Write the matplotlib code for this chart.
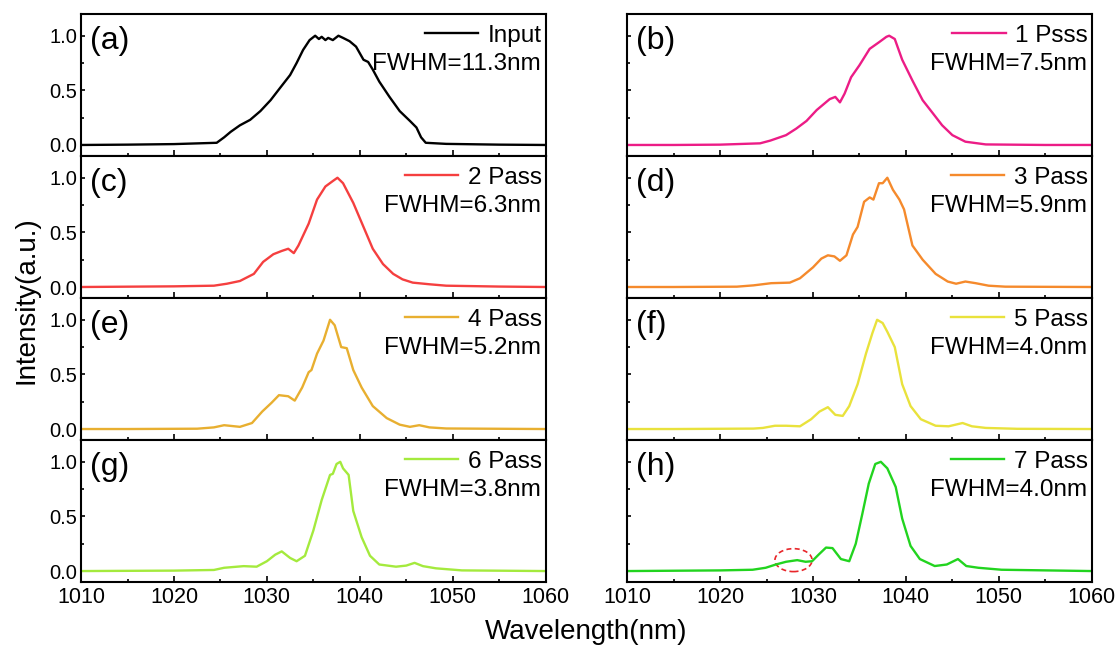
# ///---- espectros_pasadas.py ----///
# Espectros normalizados para cada pasada (a)-(h)

# ///---- Imports ----///
import numpy as np
import matplotlib
matplotlib.use('Agg')
import matplotlib.pyplot as plt
from matplotlib.patches import Ellipse
from matplotlib.ticker import MultipleLocator

plt.rcParams['font.family'] = ['Liberation Sans', 'DejaVu Sans']

# ///---- Datos ----///
wl_a = [1010, 1015, 1020, 1024.6, 1025.4, 1026.1, 1027.1, 1028.2, 1029.3, 1030.4, 1031.4,
        1032.5, 1033.2, 1033.9, 1034.6, 1035.2, 1035.6, 1035.9, 1036.3, 1036.6, 1037.1,
        1037.7, 1038.2, 1038.9, 1039.6, 1040.4, 1040.9, 1041.4, 1042.1, 1043.2, 1044.3,
        1045.4, 1046.1, 1046.6, 1047.1, 1049.3, 1055, 1060]
int_a = [0.0, 0.003, 0.008, 0.02, 0.07, 0.12, 0.18, 0.23, 0.31, 0.41, 0.52,
         0.64, 0.75, 0.87, 0.96, 1.0, 0.97, 0.99, 0.96, 0.98, 0.96,
         1.0, 0.98, 0.95, 0.90, 0.78, 0.76, 0.69, 0.58, 0.44, 0.31,
         0.22, 0.16, 0.07, 0.02, 0.01, 0.003, 0.0]

wl_b = [1010, 1015, 1020, 1024.3, 1025.4, 1027.1, 1028.2, 1029.3, 1030.4, 1031.1, 1031.8,
        1032.4, 1032.9, 1033.4, 1034.1, 1035.0, 1036.1, 1037.1, 1037.9, 1038.2, 1038.8,
        1039.6, 1040.7, 1041.8, 1042.9, 1043.9, 1045.0, 1046.4, 1048.6, 1055, 1060]
int_b = [0.0, 0.0, 0.003, 0.015, 0.04, 0.09, 0.15, 0.22, 0.32, 0.37, 0.42,
         0.44, 0.39, 0.47, 0.62, 0.73, 0.88, 0.94, 0.99, 1.0, 0.97,
         0.78, 0.59, 0.41, 0.29, 0.18, 0.09, 0.03, 0.005, 0.0, 0.0]

wl_c = [1010, 1015, 1020, 1024.3, 1025.7, 1027.1, 1028.6, 1029.6, 1030.7, 1031.6, 1032.3,
        1032.9, 1033.4, 1034.5, 1035.4, 1036.3, 1037.1, 1037.6, 1038.2, 1039.3, 1040.4,
        1041.4, 1042.5, 1043.6, 1044.6, 1045.7, 1047.5, 1049.3, 1055, 1060]
int_c = [0.0, 0.003, 0.006, 0.012, 0.03, 0.055, 0.12, 0.23, 0.30, 0.33, 0.35,
         0.31, 0.38, 0.58, 0.80, 0.92, 0.97, 1.0, 0.95, 0.77, 0.55,
         0.35, 0.21, 0.12, 0.07, 0.04, 0.025, 0.012, 0.004, 0.0]

wl_d = [1010, 1015, 1021.8, 1023.6, 1025.5, 1027.5, 1028.6, 1030.0, 1030.9, 1031.6, 1032.3,
        1032.9, 1033.6, 1034.3, 1034.8, 1035.5, 1036.1, 1036.5, 1037.1, 1037.5, 1038.0,
        1038.6, 1039.3, 1039.8, 1040.7, 1041.8, 1043.2, 1044.5, 1045.4, 1046.4, 1047.5,
        1048.9, 1050.7, 1060]
int_d = [0.0, 0.0, 0.003, 0.015, 0.035, 0.04, 0.08, 0.18, 0.26, 0.29, 0.28,
         0.24, 0.29, 0.48, 0.55, 0.78, 0.82, 0.80, 0.95, 0.95, 1.0,
         0.89, 0.80, 0.71, 0.38, 0.25, 0.12, 0.05, 0.03, 0.05, 0.035,
         0.012, 0.003, 0.0]

wl_e = [1010, 1015, 1022.5, 1024.3, 1025.4, 1027.1, 1028.4, 1029.5, 1030.5, 1031.3, 1032.3,
        1033.0, 1033.8, 1034.5, 1034.8, 1035.4, 1036.1, 1036.8, 1037.3, 1038.0, 1038.6,
        1039.3, 1040.2, 1041.4, 1042.9, 1044.3, 1045.4, 1046.4, 1047.5, 1049.3, 1060]
int_e = [0.0, 0.0, 0.003, 0.015, 0.035, 0.02, 0.055, 0.16, 0.24, 0.31, 0.30,
         0.26, 0.38, 0.52, 0.54, 0.69, 0.81, 1.0, 0.95, 0.75, 0.74,
         0.54, 0.38, 0.21, 0.10, 0.04, 0.02, 0.035, 0.015, 0.005, 0.0]

wl_f = [1010, 1015, 1023.6, 1024.6, 1025.9, 1027.1, 1028.6, 1029.8, 1030.7, 1031.6, 1032.4,
        1033.2, 1033.9, 1034.8, 1035.7, 1036.4, 1036.9, 1037.5, 1038.0, 1038.8, 1039.6,
        1040.5, 1041.6, 1043.2, 1044.6, 1046.1, 1047.1, 1048.6, 1052, 1060]
int_f = [0.0, 0.0, 0.004, 0.01, 0.03, 0.03, 0.025, 0.09, 0.16, 0.20, 0.13,
         0.12, 0.21, 0.41, 0.69, 0.88, 1.0, 0.97, 0.89, 0.75, 0.41,
         0.21, 0.09, 0.03, 0.025, 0.055, 0.025, 0.01, 0.002, 0.0]

wl_g = [1010, 1015, 1020, 1024.3, 1025.4, 1027.5, 1028.9, 1030.0, 1030.9, 1031.6, 1032.5,
        1033.2, 1034.1, 1035.0, 1035.9, 1036.8, 1037.1, 1037.5, 1037.9, 1038.2, 1038.8,
        1039.3, 1040.2, 1041.1, 1042.1, 1043.9, 1045.0, 1045.9, 1046.8, 1048.2, 1051, 1060]
int_g = [0.0, 0.002, 0.004, 0.01, 0.03, 0.045, 0.04, 0.09, 0.15, 0.18, 0.12,
         0.09, 0.14, 0.37, 0.65, 0.88, 0.89, 0.98, 1.0, 0.94, 0.88,
         0.55, 0.31, 0.14, 0.06, 0.04, 0.05, 0.075, 0.045, 0.025, 0.006, 0.0]

wl_h = [1010, 1015, 1020, 1023.5, 1024.9, 1026.0, 1027.1, 1028.3, 1029.2, 1029.9, 1030.6,
        1031.4, 1032.1, 1033.0, 1033.9, 1034.6, 1035.3, 1036.0, 1036.7, 1037.3, 1038.0,
        1038.9, 1039.6, 1040.5, 1041.5, 1043.1, 1044.4, 1045.6, 1046.5, 1047.8, 1050.3, 1060]
int_h = [0.0, 0.003, 0.006, 0.012, 0.03, 0.06, 0.085, 0.10, 0.085, 0.09, 0.15,
         0.215, 0.21, 0.11, 0.09, 0.25, 0.52, 0.80, 0.98, 1.0, 0.94,
         0.77, 0.48, 0.23, 0.11, 0.046, 0.06, 0.11, 0.046, 0.03, 0.012, 0.0]

longitudes = [wl_a, wl_b, wl_c, wl_d, wl_e, wl_f, wl_g, wl_h]
intensidades = [int_a, int_b, int_c, int_d, int_e, int_f, int_g, int_h]
etiquetas = ['(a)', '(b)', '(c)', '(d)', '(e)', '(f)', '(g)', '(h)']
leyendas = ['Input', '1 Psss', '2 Pass', '3 Pass', '4 Pass', '5 Pass', '6 Pass', '7 Pass']
fwhm = ['FWHM=11.3nm', 'FWHM=7.5nm', 'FWHM=6.3nm', 'FWHM=5.9nm',
        'FWHM=5.2nm', 'FWHM=4.0nm', 'FWHM=3.8nm', 'FWHM=4.0nm']
colores = ['#000000', '#EC1C86', '#F53F3F', '#F58A2C',
           '#E8AF30', '#E9E23C', '#A4EA3D', '#22D41F']
xticks = [1010, 1020, 1030, 1040, 1050, 1060]
yticks = [0.0, 0.5, 1.0]

# circulo rojo marcado en (h): centro, ancho, alto
elipse_h = (1027.9, 0.10, 4.0, 0.21)


# ///---- panel ----///
def panel(ax, i, abajo, izquierda):
    '''Dibuja un espectro con su leyenda y FWHM'''
    ax.plot(longitudes[i], intensidades[i], color=colores[i], lw=1.7, label=leyendas[i])
    ax.set_xlim(1010, 1060)
    ax.set_ylim(-0.1, 1.2)
    ax.set_xticks(xticks)
    ax.set_yticks(yticks)
    ax.xaxis.set_minor_locator(MultipleLocator(5))
    ax.yaxis.set_minor_locator(MultipleLocator(0.25))
    ax.tick_params(axis='x', which='both', direction='in', labelsize=15.5, width=1.2)
    ax.tick_params(axis='x', which='major', length=4)
    ax.tick_params(axis='x', which='minor', length=2.5)
    ax.tick_params(axis='y', which='both', direction='in', labelsize=14.5, width=1.2, pad=3)
    ax.tick_params(axis='y', which='major', length=3)
    ax.tick_params(axis='y', which='minor', length=2)
    ax.set_yticklabels(['0.0', '0.5', '1.0'])
    if not abajo:
        ax.tick_params(axis='x', labelbottom=False)
    if not izquierda:
        ax.tick_params(axis='y', labelleft=False)
    for s in ax.spines.values():
        s.set_linewidth(1.5)

    ax.legend(loc='upper right', bbox_to_anchor=(1.0, 0.95), frameon=False,
              fontsize=17.5, handlelength=2.2, handletextpad=0.4,
              borderaxespad=0.0, borderpad=0.15)
    ax.text(0.99, 0.65, fwhm[i], transform=ax.transAxes, ha='right', va='center',
            fontsize=17.5)
    ax.text(0.02, 0.81, etiquetas[i], transform=ax.transAxes, ha='left', va='center',
            fontsize=23)


# ///---- main ----///
def main():
    fig = plt.figure(figsize=(11.18, 6.45), dpi=100)

    izq = [0.0725, 0.561]
    ancho = 0.4155
    alto = 0.2202
    base = 0.0977

    for i in range(8):
        fila = i // 2
        col = i % 2
        y0 = base + (3 - fila) * alto
        ax = fig.add_axes([izq[col], y0, ancho, alto])
        panel(ax, i, fila == 3, col == 0)
        if i == 7:
            cx, cy, w, h = elipse_h
            ax.add_patch(Ellipse((cx, cy), w, h, fill=False, ec='#E8262A',
                                 ls=(0, (3, 2)), lw=1.2))

    fig.text(0.024, 0.535, 'Intensity(a.u.)', rotation=90, ha='center', va='center',
             fontsize=20)
    fig.text(0.524, 0.02, 'Wavelength(nm)', ha='center', va='center', fontsize=20)

    fig.savefig('out.png', dpi=100)


if __name__ == '__main__':
    main()
